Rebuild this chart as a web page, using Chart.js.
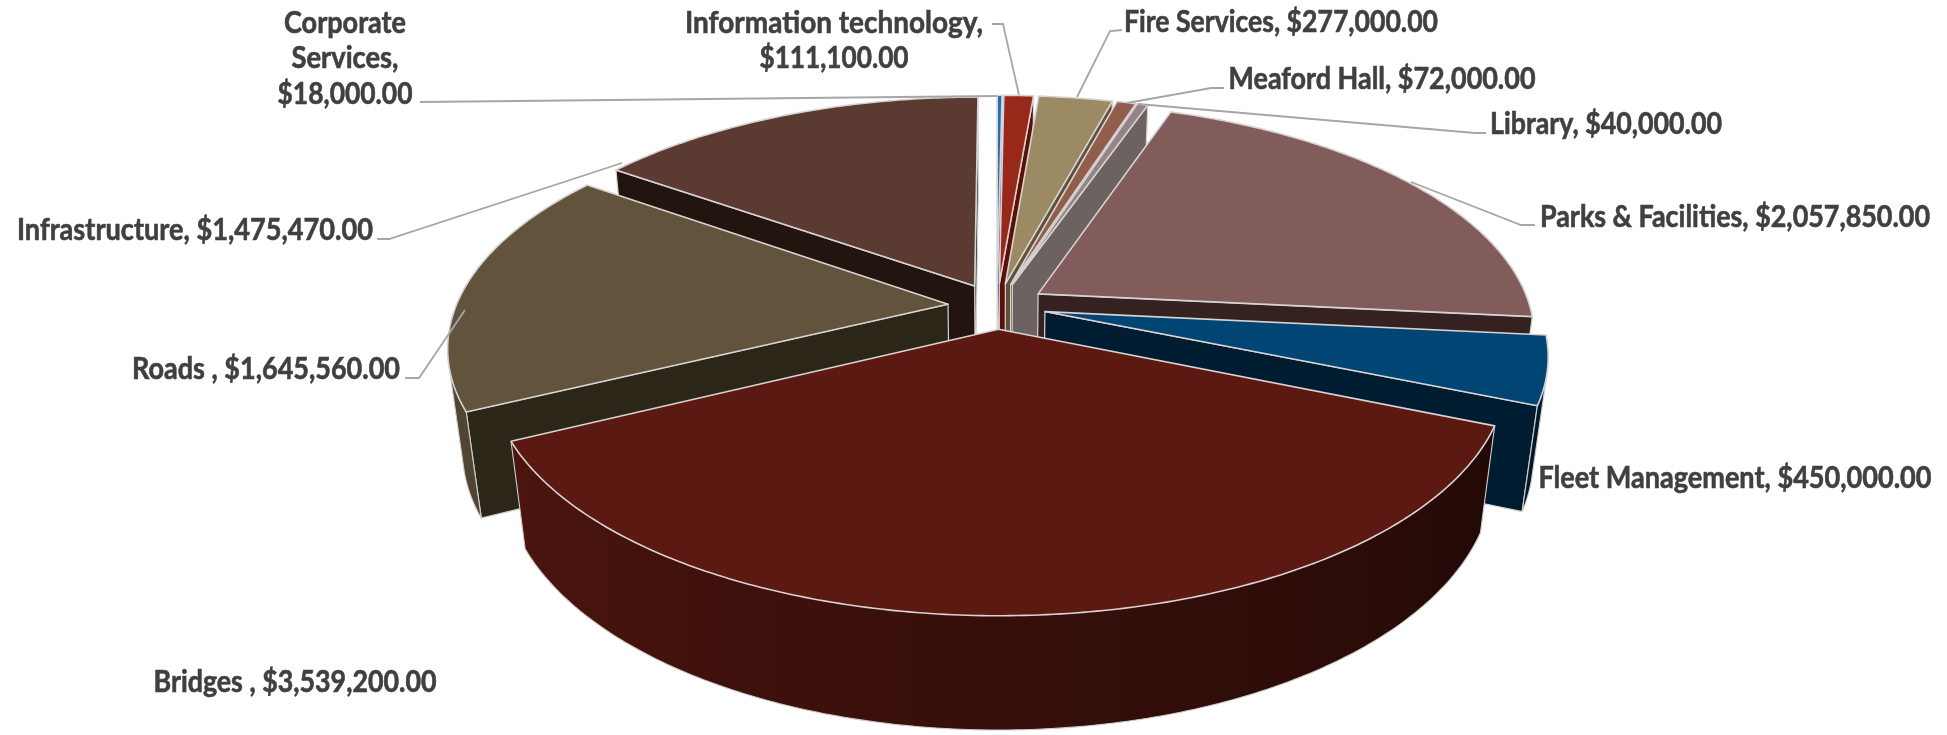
<!DOCTYPE html>
<html>
<head>
<meta charset="utf-8">
<title>Capital budget by department</title>
<style>
  html, body { margin: 0; padding: 0; background: #ffffff; }
  #wrap { width: 1947px; height: 735px; position: relative; }
</style>
<script src="https://cdn.jsdelivr.net/npm/chart.js@4"></script>
</head>
<body>
<div id="wrap"><canvas id="pie" width="1947" height="735"></canvas></div>
<script>
// Budget per department, clockwise from twelve o'clock.
const categories = ['Corporate Services', 'Information technology', 'Fire Services', 'Meaford Hall', 'Library',
  'Parks & Facilities', 'Fleet Management', 'Bridges ', 'Roads ', 'Infrastructure'];
const amounts = [18000, 111100, 277000, 72000, 40000, 2057850, 450000, 3539200, 1645560, 1475470];

// Top face and radial wall colour of each slice.
const topColors = ['#1f6fb8', '#98291a', '#9c8a64', '#925e4c', '#948487', '#825b5b', '#004574', '#5c1911', '#61533c', '#5a3a31'];
const wallColors = ['#124a7c', '#5c1008', '#5e5238', '#5e3a2e', '#6c6260', '#352120', '#001c30', '#3a0e08', '#2c2618', '#221510'];

// Every slice is pulled out of the pie by the same share of the radius.
const sliceExplode = [0.1, 0.1, 0.1, 0.1, 0.1, 0.1, 0.1, 0.1, 0.1, 0.1];

// Perspective camera for the tilted pie.
const view = { x0: 997, y0: 306, radius: 492, tilt: 228, persp: 0.173, depth: 104, depthPersp: 0.027 };

// Where each data label sits: centre x, centre y of each row, and width of each row.
const labelSpots = [
  { cx: 345, rows: 'words', y: [23, 58, 94], w: [122, 107, 135] },
  { cx: 834, rows: 'value', y: [23, 58], w: [298, 149] },
  { cx: 1281, rows: 'single', y: [22], w: [314] },
  { cx: 1382, rows: 'single', y: [79], w: [307] },
  { cx: 1606, rows: 'single', y: [124], w: [232] },
  { cx: 1735, rows: 'single', y: [217], w: [390] },
  { cx: 1735, rows: 'single', y: [478], w: [393] },
  { cx: 295, rows: 'single', y: [682], w: [283] },
  { cx: 266, rows: 'single', y: [369], w: [268] },
  { cx: 195, rows: 'single', y: [230], w: [356] }
];

// Leader lines joining labels to their slices.
const leaderPaths = [
  [[420, 102], [997, 96]],
  [[992, 24], [1003, 24], [1019, 95]],
  [[1122, 30], [1110, 31], [1077, 97]],
  [[1224, 88], [1211, 88], [1127, 103]],
  [[1486, 133], [1475, 133], [1138, 104]],
  [[1535, 225], [1521, 225], [1411, 182]],
  null,
  null,
  [[405, 378], [419, 378], [465, 310]],
  [[377, 239], [389, 239], [622, 163]]
];

const money = n => '$' + n.toLocaleString('en-US', { minimumFractionDigits: 2, maximumFractionDigits: 2 });

function labelRows(i) {
  const text = categories[i] + ', ' + money(amounts[i]);
  const mode = labelSpots[i].rows;
  if (mode === 'words') return text.split(' ');
  if (mode === 'value') return [categories[i] + ',', money(amounts[i])];
  return [text];
}

// Maps a point on the pie plane (radius units) and a drop below it (0..1) to the page.
function project(u, v, z) {
  const w = 1 - view.persp * v + view.depthPersp * z;
  return { x: view.x0 + view.radius * u / w, y: view.y0 + (view.tilt * v + view.depth * z) / w };
}

function polygon(ctx, pts) {
  ctx.beginPath();
  pts.forEach((p, i) => i ? ctx.lineTo(p.x, p.y) : ctx.moveTo(p.x, p.y));
  ctx.closePath();
}

function signedArea(pts) {
  let a = 0;
  pts.forEach((p, i) => {
    const q = pts[(i + 1) % pts.length];
    a += p.x * q.y - q.x * p.y;
  });
  return a;
}

function shade(hex, f) {
  const n = parseInt(hex.slice(1), 16);
  const c = [n >> 16, (n >> 8) & 255, n & 255].map(v => Math.round(v * f));
  return `rgb(${c[0]},${c[1]},${c[2]})`;
}

// Outer wall brightness falls from the left side of the pie towards the right.
function wallLight(angle) {
  const deg = (angle * 180 / Math.PI + 90 + 360) % 360;
  return Math.max(0.32, Math.min(1, 0.35 + (deg - 112) * 0.0036));
}

function drawSlice(ctx, arc, i) {
  const a0 = arc.startAngle, a1 = arc.endAngle, mid = (a0 + a1) / 2;
  const ox = sliceExplode[i] * Math.cos(mid), oy = sliceExplode[i] * Math.sin(mid);
  const rim = (a, z) => project(ox + Math.cos(a), oy + Math.sin(a), z);
  const apex = z => project(ox, oy, z);
  const edge = '#d8d3d3';

  // Radial walls, only when they face the camera.
  const faces = [
    [rim(a1, 0), apex(0), apex(1), rim(a1, 1)],
    [apex(0), rim(a0, 0), rim(a0, 1), apex(1)]
  ];
  faces.forEach(f => {
    if (signedArea(f) < 0) {
      polygon(ctx, f);
      ctx.fillStyle = wallColors[i];
      ctx.fill();
      ctx.strokeStyle = edge;
      ctx.lineWidth = 1.2;
      ctx.stroke();
    }
  });

  // Curved outer wall: the run of camera-facing strips becomes one shaded band.
  const steps = Math.max(2, Math.ceil((a1 - a0) / 0.012));
  const front = [];
  for (let s = 0; s < steps; s++) {
    const b0 = a0 + (a1 - a0) * s / steps, b1 = a0 + (a1 - a0) * (s + 1) / steps;
    if (signedArea([rim(b0, 0), rim(b1, 0), rim(b1, 1), rim(b0, 1)]) < 0) {
      if (!front.length) front.push(b0);
      front.push(b1);
    }
  }
  if (front.length > 1) {
    const upper = front.map(a => rim(a, 0));
    const lower = front.map(a => rim(a, 1)).reverse();
    const xa = Math.min(...upper.map(p => p.x)), xb = Math.max(...upper.map(p => p.x));
    const fill = ctx.createLinearGradient(xa, 0, xb, 0);
    front.forEach((a, k) => {
      if (k % 4 === 0 || k === front.length - 1) {
        const t = xb > xa ? Math.max(0, Math.min(1, (upper[k].x - xa) / (xb - xa))) : 0;
        fill.addColorStop(t, shade(topColors[i], wallLight(a)));
      }
    });
    polygon(ctx, upper.concat(lower));
    ctx.fillStyle = fill;
    ctx.fill();
    // Light hairline along the bottom and sides of the wall.
    ctx.beginPath();
    ctx.moveTo(upper[0].x, upper[0].y);
    lower.slice().reverse().forEach(p => ctx.lineTo(p.x, p.y));
    ctx.lineTo(upper[upper.length - 1].x, upper[upper.length - 1].y);
    ctx.strokeStyle = '#cfcccc';
    ctx.lineWidth = 1.1;
    ctx.stroke();
  }

  // Top face.
  const outline = [apex(0)];
  for (let s = 0; s <= steps; s++) outline.push(rim(a0 + (a1 - a0) * s / steps, 0));
  polygon(ctx, outline);
  ctx.fillStyle = topColors[i];
  ctx.fill();
  ctx.strokeStyle = edge;
  ctx.lineWidth = 1.6;
  ctx.stroke();
}

const pie3d = {
  id: 'pie3d',
  beforeDatasetsDraw(chart) {
    const ctx = chart.ctx;
    const arcs = chart.getDatasetMeta(0).data;
    ctx.save();
    ctx.lineJoin = 'round';
    // Paint from the back of the pie to the front, left to right among the narrow top slices.
    const order = arcs.map((a, i) => i).sort((p, q) => {
      const mp = Math.sin((arcs[p].startAngle + arcs[p].endAngle) / 2);
      const mq = Math.sin((arcs[q].startAngle + arcs[q].endAngle) / 2);
      const np = amounts[p] < 300000 ? -2 : mp, nq = amounts[q] < 300000 ? -2 : mq;
      return np - nq || p - q;
    });
    order.forEach(i => drawSlice(ctx, arcs[i], i));
    ctx.restore();
    return false; // the tilted drawing replaces the flat arcs
  },
  afterDraw(chart) {
    const ctx = chart.ctx;
    ctx.save();
    ctx.strokeStyle = '#a6a6a6';
    ctx.lineWidth = 1.8;
    leaderPaths.forEach(path => {
      if (!path) return;
      ctx.beginPath();
      path.forEach((p, k) => k ? ctx.lineTo(p[0], p[1]) : ctx.moveTo(p[0], p[1]));
      ctx.stroke();
    });
    ctx.fillStyle = '#404040';
    ctx.strokeStyle = '#404040';
    ctx.lineWidth = 0.6;
    ctx.font = '700 30px Lato, "Open Sans", sans-serif';
    ctx.textAlign = 'center';
    ctx.textBaseline = 'middle';
    labelSpots.forEach((spot, i) => {
      labelRows(i).forEach((row, r) => {
        ctx.fillText(row, spot.cx, spot.y[r], spot.w[r]);
        ctx.strokeText(row, spot.cx, spot.y[r], spot.w[r]);
      });
    });
    ctx.restore();
  }
};

new Chart(document.getElementById('pie'), {
  type: 'pie',
  data: {
    labels: categories,
    datasets: [{ data: amounts, backgroundColor: topColors, borderWidth: 0 }]
  },
  options: {
    responsive: false,
    animation: false,
    rotation: 0,
    layout: { padding: 0 },
    plugins: { legend: { display: false }, tooltip: { enabled: false } }
  },
  plugins: [pie3d]
});
</script>
</body>
</html>
